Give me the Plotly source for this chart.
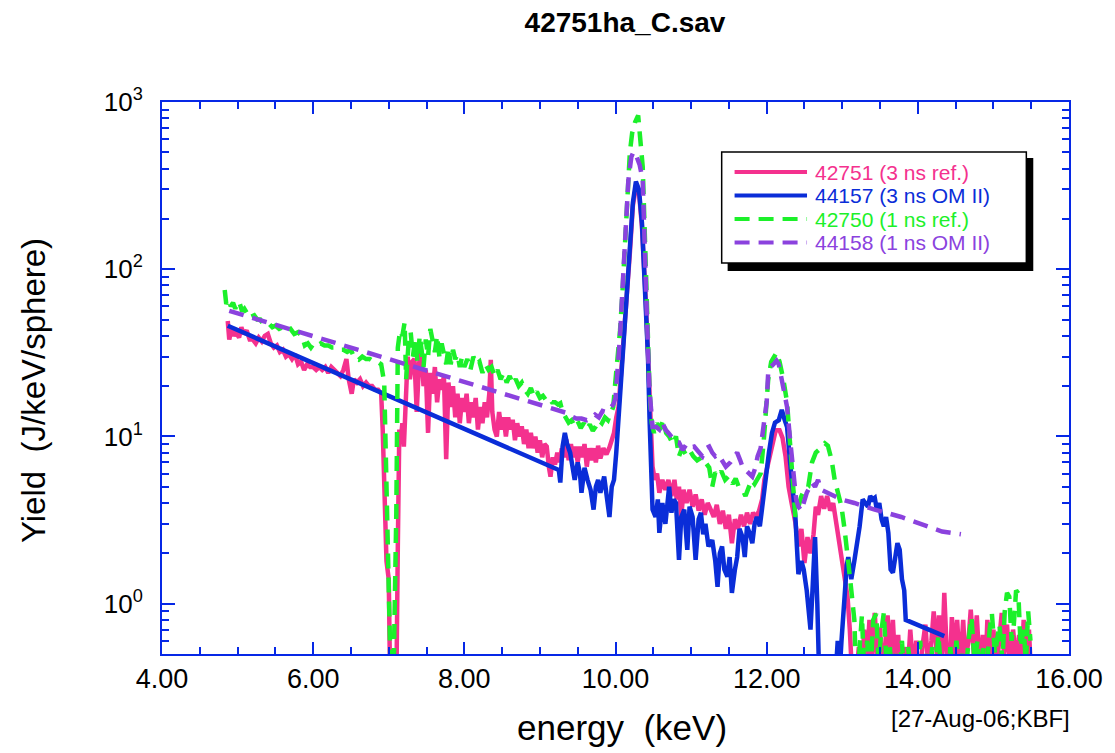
import plotly.graph_objects as go

# ---- spectra: energy (keV) and yield (J/keV/sphere) ----
e_42751 = [4.87, 4.89, 4.92, 4.95, 4.98, 5.02, 5.05, 5.08, 5.12, 5.16, 5.20, 5.24, 5.28, 5.32, 5.36, 5.40,
           5.44, 5.48, 5.52, 5.56, 5.60, 5.64, 5.68, 5.72, 5.76, 5.80, 5.84, 5.88, 5.92, 5.96, 6.00, 6.04,
           6.08, 6.12, 6.16, 6.20, 6.24, 6.28, 6.32, 6.36, 6.40, 6.44, 6.47, 6.51, 6.54, 6.58, 6.62, 6.66,
           6.70, 6.74, 6.78, 6.82, 6.86, 6.90,
           6.92, 6.95, 6.97, 7.00, 7.02, 7.06, 7.10, 7.12, 7.14, 7.16, 7.18, 7.20, 7.22, 7.25, 7.28, 7.31,
           7.34, 7.37, 7.40, 7.43, 7.46, 7.49, 7.52, 7.55, 7.58, 7.61, 7.64, 7.67, 7.70, 7.73, 7.76, 7.79,
           7.82, 7.85, 7.88, 7.91, 7.94, 7.97, 8.00, 8.03, 8.06, 8.09, 8.12, 8.15, 8.18, 8.21, 8.24, 8.27,
           8.30, 8.33, 8.35, 8.37, 8.40, 8.43, 8.46, 8.49, 8.52, 8.55, 8.58, 8.61, 8.64, 8.67, 8.70, 8.73,
           8.76, 8.79, 8.82, 8.85, 8.88, 8.91, 8.94, 8.97, 9.00, 9.03, 9.06, 9.09, 9.12, 9.14, 9.17, 9.20,
           9.23, 9.26, 9.29, 9.32, 9.35, 9.38, 9.41, 9.44, 9.47, 9.50, 9.53, 9.56, 9.59, 9.62, 9.65, 9.68,
           9.71, 9.74, 9.77, 9.80, 9.84, 9.88, 9.92, 9.95, 9.98, 10.01, 10.04, 10.08, 10.12, 10.15, 10.19,
           10.23, 10.27, 10.31, 10.35, 10.40, 10.43, 10.46, 10.49, 10.52, 10.55, 10.58, 10.62, 10.66, 10.70,
           10.74, 10.78, 10.81, 10.84, 10.87, 10.90, 10.94, 10.98, 11.02, 11.06, 11.10, 11.14, 11.18, 11.22,
           11.26, 11.30, 11.34, 11.38, 11.42, 11.46, 11.50, 11.54, 11.58, 11.62, 11.66, 11.70, 11.74, 11.78,
           11.82, 11.86, 11.90, 11.94, 11.97, 12.00, 12.04, 12.08, 12.12, 12.17, 12.21, 12.25, 12.29, 12.33,
           12.38, 12.42, 12.46, 12.50, 12.54, 12.58, 12.62, 12.65, 12.68, 12.72, 12.76, 12.80, 12.84, 12.88,
           12.92, 12.96, 12.99, 13.03, 13.07, 13.10, 13.14,
           13.18, 13.22, 13.25, 13.29, 13.32, 13.36, 13.39, 13.43, 13.46, 13.50, 13.53, 13.57, 13.60, 13.64,
           13.67, 13.71, 13.74, 13.78, 13.82, 13.86, 13.90, 13.94, 13.98, 14.02, 14.06, 14.10, 14.14, 14.18,
           14.21, 14.25, 14.28, 14.32, 14.35, 14.38, 14.42, 14.45, 14.49, 14.52, 14.56, 14.60, 14.63, 14.67,
           14.70, 14.74, 14.78, 14.82, 14.86, 14.89, 14.92, 14.96, 15.00, 15.04, 15.07, 15.11, 15.14, 15.18,
           15.22, 15.26, 15.30, 15.34, 15.37, 15.40, 15.44, 15.47, 15.49]
y_42751 = [49, 38, 44, 40, 42, 39, 45, 41, 43, 38, 38, 36, 39, 37, 40, 41,
           36, 34, 35, 32, 33, 30, 31, 29, 31, 27, 28, 25, 27, 26, 26, 25,
           26, 25, 26, 24, 26, 25, 24, 23, 25, 29, 22, 18, 22, 21, 22, 20,
           21, 20, 20, 19, 19, 18,
           11, 3.5, 1.8, 1.4, 0.3, 0.25, 0.3, 2.2, 11, 9.6, 12, 8.7, 14, 30, 22, 28,
           29, 14, 27, 33, 20, 25, 10.5, 24, 18, 26, 16, 22, 19, 23, 7.3, 21,
           15, 20, 13, 18, 12, 17, 14, 18, 12, 16, 13, 17, 11, 15, 12, 16,
           13, 18, 28.7, 14, 11, 10, 14, 11, 13, 10, 13, 11, 12.6, 9.5, 12, 10,
           11.5, 9, 11, 8.5, 10.5, 8.5, 10, 8, 9.5, 7.5, 9, 8.7, 6.5, 5.75, 7.5, 6.8,
           8, 7, 8.5, 7.5, 9.6, 7.2, 9, 7.5, 8.7, 7, 8.7, 7.5, 9, 6.6, 8.5, 7.2,
           8.5, 7, 8.8, 7.4, 8.5, 7.8, 8.6, 9.5, 10.5, 13, 15, 26, 45, 65, 125,
           240, 310, 290, 180, 66, 28, 12, 6.6, 5.5, 6, 4.6, 5.5, 4.8, 5.5,
           4.4, 5.5, 4.2, 5, 3.3, 4.8, 4, 4.8, 3.8, 4.5, 3.6, 4.2, 3.4, 4.0,
           3.65, 3.3, 3.9, 3.0, 3.6, 2.8, 3.4, 2.3, 3.2, 2.8, 3.4, 2.9, 3.5, 3.0,
           3.5, 3.3, 3.6, 4.2, 5.5, 6.3, 8, 9.5, 10.9, 10.9, 9.8, 7.6, 5, 4,
           3.05, 2.2, 2.8, 1.75, 2.5, 2.0, 2.6, 3.8, 3.4, 4.4, 3.7, 4.4, 3.6, 4.0,
           3.05, 2.2, 1.76, 1.4, 1.1, 0.7, 0.3,
           0.35, 0.55, 0.3, 0.7, 0.4, 0.8, 0.45, 0.88, 0.5, 0.72, 0.35, 0.6, 0.85, 0.45,
           0.8, 0.35, 0.65, 0.3, 0.55, 0.35, 0.7, 0.4, 0.6, 0.3, 0.55, 0.75, 0.4, 0.6,
           0.9, 0.5, 0.85, 0.45, 1.16, 0.55, 0.35, 0.83, 0.5, 0.8, 0.4, 0.8, 0.45, 0.6,
           0.92, 0.5, 0.85, 0.4, 0.65, 0.35, 0.8, 0.45, 0.7, 0.4, 0.6, 0.88, 0.5, 0.75,
           0.4, 0.7, 0.45, 0.65, 0.35, 0.8, 0.5, 0.7, 0.45]

e_44157 = [4.87, 5.5, 6.0, 6.5, 7.0, 7.5, 8.0, 8.5, 9.0, 9.25,
           9.27, 9.30, 9.33, 9.36, 9.40, 9.43, 9.46, 9.50, 9.53, 9.55, 9.59, 9.63, 9.67, 9.71, 9.74, 9.77,
           9.80, 9.85, 9.88, 9.92, 9.95, 9.98, 10.01, 10.04, 10.08, 10.12, 10.15, 10.19, 10.23, 10.27, 10.31,
           10.35, 10.40, 10.43, 10.45, 10.47, 10.49, 10.53, 10.56, 10.58, 10.62, 10.66, 10.71, 10.74, 10.77,
           10.80, 10.84, 10.87, 10.91, 10.95, 10.98, 11.02, 11.06, 11.10, 11.13, 11.16, 11.19, 11.23, 11.28,
           11.32, 11.35, 11.38, 11.41, 11.44, 11.48, 11.51, 11.54, 11.58, 11.61, 11.64, 11.68, 11.71, 11.74,
           11.78, 11.81, 11.84, 11.87, 11.91, 11.94, 11.98, 12.03, 12.07, 12.11, 12.16, 12.20, 12.24, 12.27,
           12.31, 12.35, 12.38, 12.40, 12.42, 12.46, 12.49, 12.53, 12.56, 12.58, 12.61, 12.64, 12.67, 12.70,
           12.80, 12.90, 12.94, 12.96, 12.99, 13.03, 13.06, 13.08, 13.12, 13.16, 13.19, 13.23, 13.27, 13.30,
           13.34, 13.37, 13.40, 13.43, 13.46, 13.49, 13.52, 13.55, 13.58, 13.61, 13.64, 13.67, 13.70, 13.73,
           13.76, 13.79, 13.82, 13.84, 14.35]
y_44157 = [45.9, 34.5, 27.5, 22, 17.5, 14, 11.1, 8.9, 7.1, 6.3,
           5.3, 8.7, 10.5, 9, 8, 6.5, 5.5, 7, 6, 4.6, 6.5, 5.5, 4.8, 3.65, 5, 5.5,
           4.6, 5.75, 4.5, 3.3, 5, 5.5, 8, 12.6, 26, 45, 69, 130, 250, 334, 300,
           189, 69, 30, 13, 6.6, 3.65, 3.3, 4.2, 2.65, 4, 3.0, 5, 3.5, 4.2,
           4, 1.83, 3.3, 3.65, 2.1, 3.8, 3.3, 1.83, 3.2, 3.5, 2.6, 3, 2.2, 2.4,
           1.8, 1.26, 2.0, 2.2, 1.6, 1.45, 1.9, 1.16, 1.6, 1.9, 2.8, 2.5, 1.9, 2.9,
           2.6, 2.3, 3.0, 3.3, 2.9, 3.8, 5.3, 8, 10.5, 12.1, 12.5, 14.4, 12.5, 11.4,
           7, 4.8, 3.3, 2.2, 1.5, 1.8, 1.6, 1.2, 0.9, 0.7, 1.3, 2.5, 1.0, 0.3,
           0.3, 0.3, 0.6, 0.35, 0.6, 1.26, 1.7, 1.9, 1.4, 1.8, 2.2, 2.9, 4.2, 4.0,
           3.8, 4.4, 4.2, 4.3, 3.6, 4.0, 3.2, 2.9, 3.3, 2.65, 1.6, 1.53, 2.0, 2.3,
           2.1, 1.4, 1.2, 0.8, 0.64]

e_42750 = [4.83, 4.85, 4.88, 4.91, 4.94, 4.97, 5.00, 5.03, 5.06, 5.09, 5.12, 5.15, 5.18, 5.22, 5.26, 5.30,
           5.34, 5.38, 5.42, 5.46, 5.50, 5.55, 5.60, 5.65, 5.70, 5.75, 5.80, 5.85, 5.89, 5.93, 5.97, 6.01,
           6.05, 6.10, 6.15, 6.20, 6.25, 6.30, 6.35, 6.40, 6.45, 6.50, 6.55, 6.60, 6.65, 6.70, 6.75, 6.80,
           6.85, 6.90, 6.94, 6.96, 6.98, 7.00, 7.03, 7.06, 7.08, 7.10, 7.11, 7.12, 7.15, 7.18, 7.21, 7.23,
           7.26, 7.29, 7.32, 7.35, 7.38, 7.41, 7.43, 7.46, 7.49, 7.52, 7.55, 7.58, 7.61, 7.64, 7.67, 7.70,
           7.73, 7.76, 7.79, 7.82, 7.85, 7.88, 7.91, 7.94, 7.97, 8.00, 8.04, 8.08, 8.12, 8.16, 8.20, 8.24,
           8.28, 8.32, 8.36, 8.40, 8.44, 8.48, 8.52, 8.56, 8.60, 8.64, 8.68, 8.72, 8.76, 8.80, 8.84, 8.88,
           8.92, 8.96, 9.00, 9.04, 9.08, 9.12, 9.16, 9.20, 9.24, 9.27, 9.30, 9.34, 9.38, 9.42, 9.46, 9.50,
           9.54, 9.58, 9.62, 9.66, 9.70, 9.74, 9.78, 9.82, 9.86, 9.90, 9.94, 9.97, 10.00, 10.03, 10.06, 10.09,
           10.12, 10.15, 10.19, 10.22, 10.26, 10.30, 10.33, 10.36, 10.39, 10.42, 10.45, 10.48, 10.51, 10.55,
           10.59, 10.63, 10.67, 10.71, 10.76, 10.80, 10.84, 10.88, 10.93, 10.98, 11.03, 11.08, 11.14, 11.19,
           11.24, 11.28, 11.32, 11.36, 11.40, 11.45, 11.50, 11.55, 11.59, 11.63, 11.68, 11.72, 11.76, 11.80,
           11.84, 11.88, 11.92, 11.96, 12.00, 12.02, 12.06, 12.09, 12.13, 12.17, 12.22, 12.27, 12.31, 12.35,
           12.38, 12.42, 12.46, 12.50, 12.55, 12.60, 12.65, 12.69, 12.73, 12.77, 12.81, 12.86, 12.90, 12.95,
           12.99, 13.03, 13.06, 13.08, 13.12, 13.16, 13.19,
           13.22, 13.26, 13.29, 13.33, 13.37, 13.41, 13.45, 13.48, 13.52, 13.55, 13.59, 13.63, 13.67, 13.71,
           13.75, 13.79, 13.83, 13.87, 13.91, 13.95, 13.99, 14.03, 14.07, 14.11, 14.15, 14.19, 14.23, 14.27,
           14.31, 14.35, 14.39, 14.43, 14.47, 14.51, 14.55, 14.59, 14.63, 14.67, 14.71, 14.75, 14.79, 14.83,
           14.87, 14.91, 14.95, 14.98, 15.02, 15.05, 15.08, 15.12, 15.15, 15.18, 15.21, 15.24, 15.27, 15.30,
           15.33, 15.36, 15.40, 15.43, 15.46, 15.49]
y_42750 = [75, 62, 66, 60, 63, 58, 64, 62, 56, 58, 55, 56, 52, 53, 50, 50,
           47, 48, 47, 45, 46, 44, 45, 43, 44, 41, 42, 40, 35, 36, 34, 36,
           35, 36, 35, 35, 34, 34, 33, 33, 32, 33, 29, 28.7, 30, 29, 29, 28,
           28, 27, 21, 7.3, 1.45, 0.88, 0.3, 0.3, 0.88, 3.5, 11, 34, 43, 40, 48, 22,
           35, 42, 30, 38, 28, 40, 34, 26, 38, 30, 44, 36, 32, 40, 30, 36,
           32, 27, 34, 27, 33, 29, 31, 26, 30, 26, 29, 25, 30, 27, 28, 24,
           27, 25, 26, 23, 25, 22, 24, 21, 23, 20.5, 22, 20, 21, 19, 18, 19.5,
           17.3, 18.5, 17, 17.5, 16.5, 17, 16, 16, 15.5, 15.8, 14, 12.8, 12.1, 12.5, 11.5, 12.3,
           11.2, 12, 11, 11.8, 10.8, 11.5, 12.5, 12, 13, 12.5, 14, 15, 21.8, 30, 43, 70,
           119, 260, 500, 650, 760, 830, 600, 410, 150, 48, 19, 12, 10.5, 12,
           11, 12.5, 10.5, 10, 9, 10, 7.6, 8.5, 7.8, 8.3, 7.6, 7.2, 7.5, 7,
           6.5, 5, 6.1, 5.8, 6.2, 5.5, 5.8, 5.2, 5.6, 5, 4.8, 4.4, 5, 5.5,
           5.2, 5.6, 6, 9.2, 16.6, 21.8, 28, 30, 31.7, 28, 22, 16, 8.7, 4.5,
           3.3, 3.8, 4.4, 4.8, 5, 7, 8, 8.3, 8.7, 9.1, 8.8, 7.2, 5.5, 4.6,
           3.8, 2.8, 2.2, 1.76, 1.2, 0.8, 0.3,
           0.5, 0.85, 0.4, 0.6, 0.35, 0.8, 0.87, 0.45, 0.7, 0.88, 0.4, 0.55, 0.3, 0.5,
           0.35, 0.6, 0.3, 0.55, 0.4, 0.5, 0.3, 0.6, 0.35, 0.5, 0.3, 0.55, 0.35, 0.65,
           0.4, 0.5, 0.3, 0.55, 0.35, 0.6, 0.4, 0.5, 0.35, 0.6, 0.83, 0.45, 0.6, 0.35,
           0.55, 0.4, 0.7, 0.87, 0.5, 0.65, 0.75, 0.45, 0.9, 1.16, 1.1, 0.6, 0.75, 1.2,
           1.15, 0.55, 0.7, 0.45, 0.9, 0.6]

e_44158 = [4.89, 5.5, 6.0, 6.5, 7.0, 7.5, 8.0, 8.5, 9.0, 9.36, 9.42, 9.48, 9.55, 9.62, 9.68, 9.73,
           9.78, 9.83, 9.88, 9.93, 9.97, 10.00, 10.03, 10.06, 10.08, 10.12, 10.17, 10.21, 10.24, 10.28,
           10.32, 10.36, 10.39, 10.41, 10.45, 10.49, 10.54, 10.58, 10.62, 10.66, 10.70, 10.76, 10.80, 10.84,
           10.89, 10.94, 10.99, 11.04, 11.09, 11.15, 11.20, 11.24, 11.28, 11.32, 11.36, 11.40, 11.46, 11.52,
           11.57, 11.61, 11.65, 11.68, 11.72, 11.76, 11.81, 11.85, 11.88, 11.92, 11.94, 11.98, 12.00, 12.02,
           12.05, 12.09, 12.13, 12.16, 12.20, 12.24, 12.27, 12.31, 12.35, 12.39, 12.42, 12.46, 12.49, 12.53,
           12.57, 12.60, 12.64, 12.68, 12.72, 12.76, 12.81, 12.90, 12.99, 13.16, 13.43, 13.78, 14.04, 14.32,
           14.57]
y_44158 = [56.4, 46.5, 39.7, 34, 29, 24.8, 21.2, 18.1, 15.5, 13.8, 13.2, 12.8, 12.8, 12.5, 12.8, 13.5,
           13, 14.2, 14, 15, 15.5, 17, 24, 40, 60, 145, 340, 470, 505, 470,
           420, 340, 150, 63, 19, 11.4, 11.4, 11, 12.1, 11, 10.5, 9.6, 9.2, 9.2,
           8.3, 9, 8.6, 8.7, 8.2, 7.6, 8.5, 8.7, 8, 7.6, 7.8, 7.2, 6.6, 7.0,
           7.6, 8, 7.2, 6.6, 6.3, 6.0, 5.75, 6.5, 7.6, 8.5, 10, 13, 16, 24,
           26, 27, 28.4, 27, 22, 18, 15, 9.6, 6.3, 4.2, 3.8, 3.6, 4.0, 4.6,
           5.0, 5.3, 5.0, 5.5, 4.8, 4.7, 4.6, 4.4, 4.2, 4.0, 3.65, 3.3, 3.0, 2.7,
           2.6]

# ---- series styling and legend labels ----
series_names = ["42751 (3 ns ref.)", "44157 (3 ns OM II)", "42750 (1 ns ref.)", "44158 (1 ns OM II)"]
series_colors = ["#F4318E", "#0A2DD8", "#1CF02A", "#8B42DE"]
series_dash = ["solid", "solid", "15px,9px", "15px,9px"]
series_e = [e_42751, e_44157, e_42750, e_44158]
series_y = [y_42751, y_44157, y_42750, y_44158]

axis_blue = "#0628E6"
font_family = "Liberation Sans, Arial, Helvetica, sans-serif"

fig = go.Figure()
for name, col, dash, ex, yy in zip(series_names, series_colors, series_dash, series_e, series_y):
    fig.add_trace(go.Scatter(x=ex, y=yy, mode="lines", name=name,
                             line=dict(color=col, width=4.5, dash=dash),
                             showlegend=False))

# y-axis decade labels and minor ticks
y_major = [1, 10, 100, 1000]
y_major_text = ["10<sup>0</sup>", "10<sup>1</sup>", "10<sup>2</sup>", "10<sup>3</sup>"]
y_minor = [m * d for d in (0.1, 1, 10, 100) for m in range(2, 10) if 0.5 <= m * d <= 1000]

fig.update_layout(
    width=1115, height=753,
    margin=dict(l=162, r=39, t=102, b=99),
    paper_bgcolor="white", plot_bgcolor="white",
    font=dict(family=font_family, color="black"),
    title=dict(text="<b>42751ha_C.sav</b>", x=625 / 1115, xref="container", xanchor="center",
               y=1 - 22 / 753, yref="container", yanchor="middle",
               font=dict(size=28, family=font_family, color="black")),
    showlegend=False,
    xaxis=dict(range=[4, 16], tick0=4, dtick=2, tickformat=".2f",
               ticks="inside", ticklen=12, tickwidth=2, tickcolor=axis_blue,
               showline=True, linecolor=axis_blue, linewidth=2, mirror="ticks",
               showgrid=False, zeroline=False,
               tickfont=dict(size=27, color="black"),
               minor=dict(dtick=0.5, tick0=4, ticks="inside", ticklen=7, tickwidth=2,
                          tickcolor=axis_blue, showgrid=False)),
    yaxis=dict(type="log", range=[-0.30103, 3],
               tickmode="array", tickvals=y_major, ticktext=y_major_text,
               ticks="inside", ticklen=13, tickwidth=2, tickcolor=axis_blue,
               showline=True, linecolor=axis_blue, linewidth=2, mirror="ticks",
               showgrid=False, zeroline=False, ticklabelstandoff=12,
               tickfont=dict(size=26, color="black"),
               minor=dict(tickmode="array", tickvals=y_minor, ticks="inside", ticklen=7,
                          tickwidth=2, tickcolor=axis_blue, showgrid=False)),
)

def px_x(px):
    return (px - 162) / 914

def px_y(py):
    return (654 - py) / 552

# axis titles and footer stamp
fig.add_annotation(text="energy  (keV)", x=px_x(626), y=px_y(727), xref="paper", yref="paper",
                   showarrow=False, font=dict(size=35, color="black"), xanchor="center", yanchor="middle")
fig.add_annotation(text="Yield  (J/keV/sphere)", x=px_x(32), y=px_y(390), xref="paper", yref="paper",
                   showarrow=False, textangle=-90, font=dict(size=33, color="black"),
                   xanchor="center", yanchor="middle")
fig.add_annotation(text="[27-Aug-06;KBF]", x=px_x(987), y=px_y(718), xref="paper", yref="paper",
                   showarrow=False, font=dict(size=24, color="black"), xanchor="center", yanchor="middle")

# legend: drop-shadow box with line samples
fig.add_shape(type="rect", xref="paper", yref="paper", x0=px_x(732), x1=px_x(1040),
              y0=px_y(271), y1=px_y(158), fillcolor="black", line=dict(width=0), layer="above")
fig.add_shape(type="rect", xref="paper", yref="paper", x0=px_x(726), x1=px_x(1033),
              y0=px_y(263), y1=px_y(152), fillcolor="white", line=dict(color="black", width=1.5),
              layer="above")
row_py = [172, 195.5, 219, 242.5]
for name, col, dash, py in zip(series_names, series_colors, series_dash, row_py):
    fig.add_shape(type="line", xref="paper", yref="paper", x0=px_x(739), x1=px_x(812),
                  y0=px_y(py), y1=px_y(py), line=dict(color=col, width=4, dash=dash), layer="above")
    fig.add_annotation(text=name, x=px_x(818), y=px_y(py), xref="paper", yref="paper",
                       showarrow=False, xanchor="left", yanchor="middle",
                       font=dict(size=21, color=col))

fig.write_html("out.html")
